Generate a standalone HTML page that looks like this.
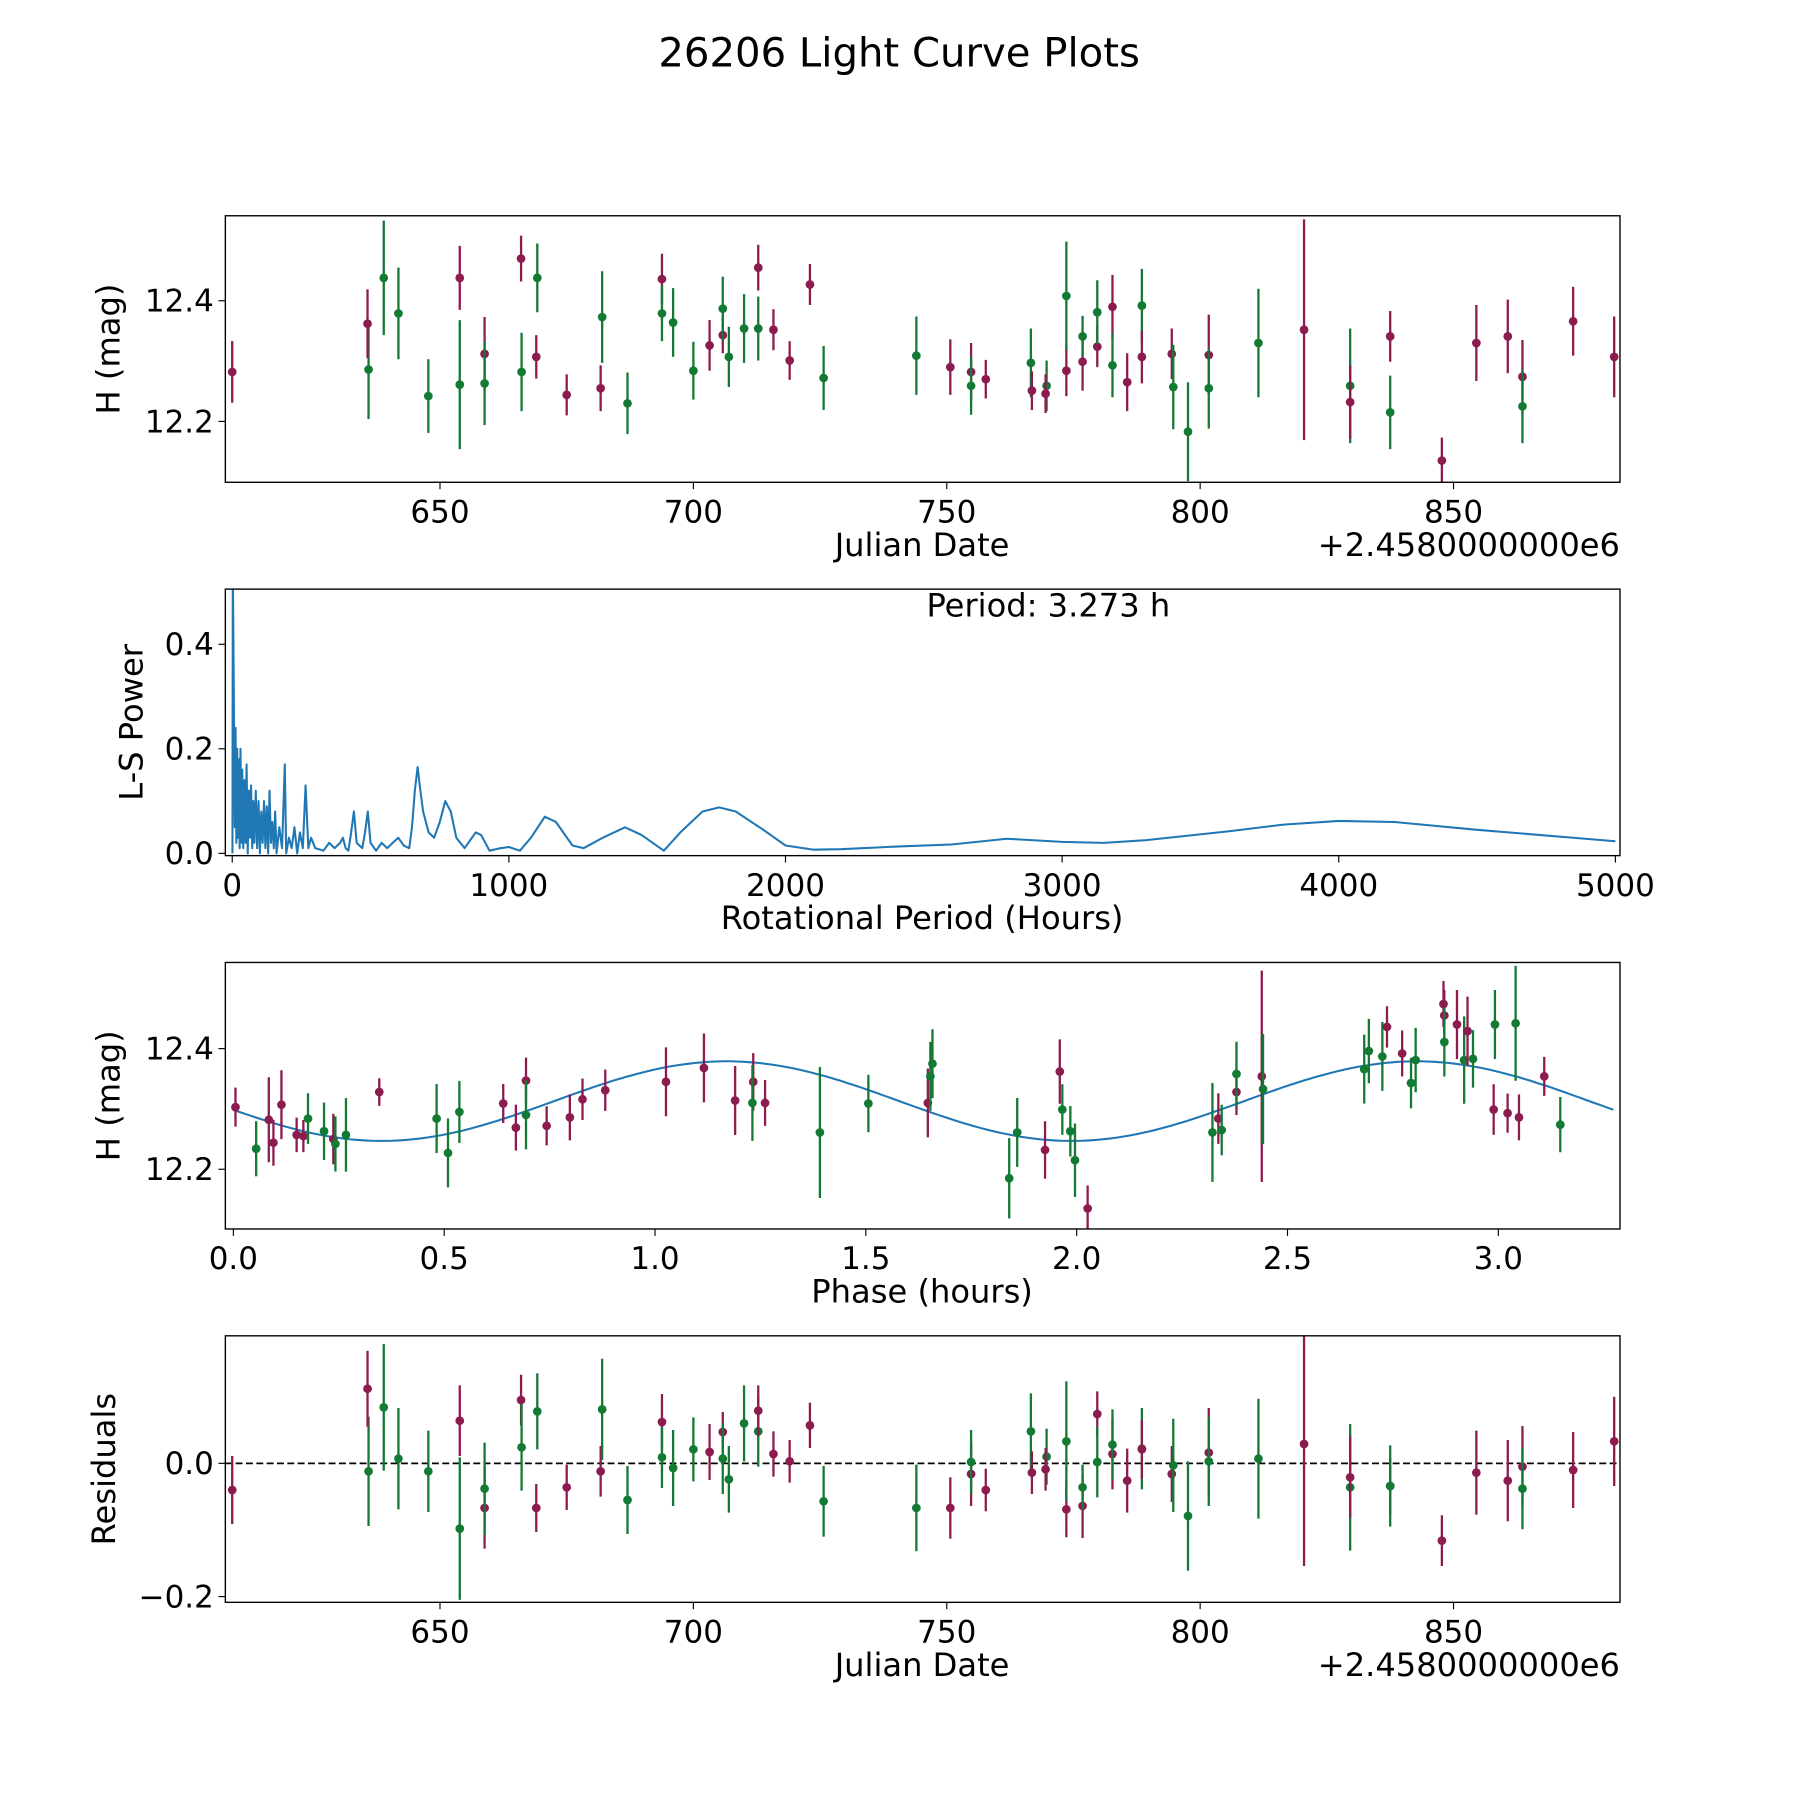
<!DOCTYPE html>
<html><head><meta charset="utf-8">
<style>
html,body{margin:0;padding:0;background:#fff;}
svg{display:block;font-family:"DejaVu Sans","Liberation Sans",sans-serif;}
</style></head>
<body>
<svg id="fig" width="1800" height="1800" viewBox="0 0 1560 1560" xmlns="http://www.w3.org/2000/svg">
<rect width="1560" height="1560" fill="#fff"/>
<defs>
<clipPath id="c1"><rect x="196" y="188" width="1215" height="232"/></clipPath>
<clipPath id="c2"><rect x="196" y="513" width="1215" height="232"/></clipPath>
<clipPath id="c3"><rect x="196" y="838" width="1215" height="232"/></clipPath>
<clipPath id="c4"><rect x="196" y="1163" width="1215" height="232"/></clipPath>
</defs>
<g transform="translate(195.3,187) scale(0.9948,0.9956) translate(-196,-188)">
<text x="783" y="58" font-size="35" text-anchor="middle">26206 Light Curve Plots</text>
<g id="p1"></g>
<g id="p2"></g>
<g id="p3"></g>
<g id="p4"></g>
</g>
</svg>
<script>
// ---- Light curve data (Julian date offsets, mag, error, filter) ----
const jdDates = [609.0,635.9,635.7,638.9,641.8,647.7,653.9,653.9,658.8,658.8,666.0,666.1,669.0,669.2,675.0,681.7,682.0,687.0,693.8,693.8,696.0,700.0,703.2,705.8,705.8,707.0,710.0,712.8,712.8,715.8,719.0,723.0,725.7,744.0,750.7,754.8,754.8,757.7,766.6,766.8,769.7,769.5,773.6,773.6,776.8,776.8,779.7,779.7,782.7,782.7,785.6,788.5,788.5,794.4,794.7,797.6,801.7,801.7,811.5,820.5,829.6,829.6,837.5,837.5,847.7,854.5,860.7,863.6,863.6,873.6,881.7];
const jdMags = [12.282,12.286,12.362,12.438,12.379,12.242,12.261,12.438,12.312,12.263,12.470,12.282,12.307,12.438,12.244,12.255,12.373,12.230,12.436,12.379,12.364,12.284,12.326,12.343,12.387,12.307,12.354,12.354,12.455,12.352,12.301,12.427,12.272,12.309,12.290,12.282,12.259,12.270,12.297,12.251,12.259,12.246,12.284,12.408,12.299,12.341,12.324,12.381,12.390,12.293,12.265,12.392,12.307,12.312,12.257,12.183,12.310,12.255,12.330,12.352,12.259,12.232,12.341,12.215,12.135,12.330,12.341,12.274,12.225,12.366,12.307];
const jdErrs = [.051,.082,.057,.095,.076,.061,.107,.053,.061,.069,.038,.065,.036,.057,.034,.038,.076,.051,.042,.046,.057,.048,.042,.030,.053,.050,.057,.053,.038,.034,.032,.034,.053,.065,.046,.048,.048,.032,.057,.032,.042,.032,.042,.090,.048,.034,.034,.053,.053,.053,.048,.061,.044,.042,.070,.082,.067,.067,.090,.183,.095,.061,.042,.061,.038,.063,.061,.061,.061,.057,.067];
const jdFilter = ["m","g","m","g","g","g","g","m","m","g","m","g","m","g","m","m","g","g","m","g","g","g","m","m","g","g","g","g","m","m","m","m","g","g","m","m","g","m","g","m","g","m","m","g","m","g","m","g","m","g","m","g","m","m","g","g","m","g","g","m","g","m","m","g","m","m","m","m","g","m","m"];
const residuals = [-0.040,-0.012,0.112,0.084,0.007,-0.012,-0.098,0.064,-0.067,-0.038,0.095,0.024,-0.067,0.078,-0.036,-0.012,0.081,-0.055,0.062,0.009,-0.007,0.021,0.017,0.047,0.007,-0.024,0.060,0.048,0.079,0.014,0.003,0.057,-0.057,-0.067,-0.067,-0.016,0.002,-0.040,0.048,-0.014,0.010,-0.009,-0.069,0.033,-0.064,-0.036,0.074,0.002,0.014,0.028,-0.026,0.022,0.021,-0.016,-0.003,-0.079,0.016,0.003,0.007,0.029,-0.036,-0.021,-0.034,-0.034,-0.116,-0.014,-0.026,-0.005,-0.038,-0.010,0.033];
// ---- Phase data ----
const phases = [0.005,0.054,0.084,0.095,0.114,0.150,0.166,0.177,0.215,0.237,0.242,0.267,0.346,0.482,0.509,0.536,0.640,0.670,0.694,0.694,0.743,0.798,0.828,0.882,1.026,1.116,1.190,1.233,1.231,1.261,1.391,1.506,1.647,1.653,1.658,1.840,1.859,1.925,1.960,1.966,1.985,1.996,2.026,2.322,2.336,2.344,2.379,2.379,2.439,2.442,2.682,2.693,2.725,2.736,2.772,2.793,2.804,2.870,2.872,2.872,2.902,2.919,2.927,2.940,2.989,2.992,3.022,3.041,3.049,3.109,3.147];
const phaseMags = [12.303,12.234,12.282,12.244,12.307,12.257,12.255,12.284,12.263,12.250,12.242,12.257,12.328,12.284,12.227,12.295,12.309,12.269,12.347,12.290,12.272,12.286,12.316,12.331,12.345,12.368,12.314,12.345,12.310,12.310,12.261,12.309,12.310,12.354,12.375,12.185,12.261,12.232,12.362,12.299,12.263,12.215,12.135,12.261,12.284,12.265,12.328,12.358,12.354,12.333,12.366,12.396,12.387,12.436,12.392,12.343,12.381,12.474,12.455,12.411,12.440,12.381,12.429,12.383,12.299,12.440,12.293,12.442,12.286,12.354,12.274];
const phaseErrPx = [17,24,37,20,30,15,14,22,25,22,24,32,12,30,30,27,17,20,20,30,17,20,18,18,30,30,30,25,33,20,57,25,30,30,30,35,30,25,28,22,22,32,20,43,22,22,20,28,92,48,30,28,30,18,20,22,28,20,22,30,30,38,30,25,22,30,17,50,20,17,24];
const phaseFilter = ["m","g","m","m","m","m","m","g","g","m","g","g","m","g","g","g","m","m","m","g","m","m","m","m","m","m","m","m","g","m","g","g","m","g","g","g","g","m","m","g","g","g","m","g","m","g","m","g","m","g","g","g","g","m","m","g","g","m","m","g","m","g","m","g","m","g","m","g","m","m","g"];
const modelMean = 12.313, modelAmp = 0.066, modelPeak = 1.17, period = 3.273;
// ---- Periodogram ----
const lsPeriods = [1,2,6,9,12,15,18,21,24,27,30,33,36,40,44,48,52,56,60,64,68,72,76,80,85,90,95,100,105,110,115,120,125,130,135,140,145,150,155,160,170,180,190,195,205,215,225,235,245,255,265,275,285,300,330,350,370,390,400,410,420,430,440,450,470,480,490,500,520,540,560,580,600,620,640,650,660,670,680,690,710,730,750,770,790,810,840,860,880,900,930,970,1000,1040,1080,1130,1170,1230,1270,1340,1420,1480,1560,1620,1700,1760,1820,1920,2000,2100,2200,2400,2600,2800,3000,3150,3300,3600,3800,4000,4200,4500,5000];
const lsPower = [0.0,0.55,0.30,0.05,0.24,0.02,0.20,0.03,0.18,0.01,0.20,0.02,0.16,0.01,0.14,0.02,0.17,0.0,0.12,0.03,0.13,0.01,0.10,0.02,0.12,0.01,0.10,0.0,0.08,0.02,0.10,0.01,0.09,0.0,0.12,0.02,0.06,0.01,0.08,0.0,0.05,0.01,0.17,0.0,0.03,0.01,0.05,0.0,0.04,0.01,0.13,0.01,0.03,0.01,0.005,0.02,0.01,0.02,0.03,0.01,0.005,0.04,0.08,0.02,0.01,0.04,0.08,0.02,0.005,0.02,0.01,0.02,0.03,0.015,0.01,0.05,0.12,0.165,0.12,0.08,0.04,0.03,0.06,0.10,0.08,0.03,0.01,0.025,0.04,0.035,0.005,0.01,0.012,0.005,0.03,0.07,0.06,0.015,0.01,0.03,0.05,0.035,0.005,0.04,0.08,0.088,0.08,0.045,0.015,0.007,0.008,0.013,0.017,0.028,0.022,0.02,0.025,0.042,0.055,0.062,0.06,0.045,0.023];
const jdTicks = [650,700,750,800,850];
const magTicks = [12.2,12.4];
const lsXTicks = [0,1000,2000,3000,4000,5000];
const lsYTicks = [0.0,0.2,0.4];
const phaseTicks = [0.0,0.5,1.0,1.5,2.0,2.5,3.0];
const resTicks = [-0.2,0.0];

const NS="http://www.w3.org/2000/svg";
const COL={m:"#8c1b50",g:"#127a33"};
function mk(parent,tag,attrs){const e=document.createElementNS(NS,tag);for(const k in attrs)e.setAttribute(k,attrs[k]);parent.appendChild(e);return e;}
const L=196,R=1411;
function lin(d0,d1,p0,p1){return v=>p0+(v-d0)*(p1-p0)/(d1-d0);}
const xJD=lin(650,850,383,1266);
function frame(g,top,xs,xTicks,xfmt,ys,yTicks,yfmt,xlabel,ylabel,ylx,offset){
  const b=top+232;
  xTicks.forEach(t=>{const x=xs(t);
    const tk=mk(g,'line',{x1:x,x2:x,y1:b,y2:b+6,stroke:'#000','stroke-width':1});
    
    const tl=mk(g,'text',{x:x,y:b+35,'font-size':27,'text-anchor':'middle'});tl.textContent=xfmt(t);
    });
  yTicks.forEach(t=>{const y=ys(t);
    const tk=mk(g,'line',{x1:L-6,x2:L,y1:y,y2:y,stroke:'#000','stroke-width':1});
    
    const tl=mk(g,'text',{x:L-10,y:y+9.5,'font-size':27,'text-anchor':'end'});tl.textContent=yfmt(t);
    });
  const xl=mk(g,'text',{x:803,y:b+64,'font-size':28,'text-anchor':'middle'});xl.textContent=xlabel;
  
  const yl=mk(g,'text',{x:ylx,y:top+116,'font-size':28,'text-anchor':'middle',transform:`rotate(-90 ${ylx} ${top+116})`});yl.textContent=ylabel;
  
  if(offset){const o=mk(g,'text',{x:R,y:b+64,'font-size':28,'text-anchor':'end'});o.textContent=offset;
    }
}
function box(g,top){const r=mk(g,'rect',{x:L,y:top,width:R-L,height:232,fill:'none',stroke:'#000','stroke-width':1.2});
  }
function pt(g,x,y,e,c){
  const l=mk(g,'line',{x1:x,x2:x,y1:y-e,y2:y+e,stroke:COL[c],'stroke-width':2});
  
  const d=mk(g,'circle',{cx:x,cy:y,r:3.8,fill:COL[c]});
  
}
const f1=v=>v.toFixed(1);
// Panel 1
{const g=document.getElementById('p1');const ys=lin(12.2,12.4,367,262);
 frame(g,188,xJD,jdTicks,String,ys,magTicks,f1,'Julian Date','H (mag)',104,'+2.4580000000e6');
 const cg=mk(g,'g',{'clip-path':'url(#c1)'});
 jdDates.forEach((d,i)=>pt(cg,xJD(d),ys(jdMags[i]),jdErrs[i]*525,jdFilter[i]));
 box(g,188);}
// Panel 2
{const g=document.getElementById('p2');const xs=lin(0,5000,202,1407);const ys=lin(0,0.2,743,652);
 frame(g,513,xs,lsXTicks,String,ys,lsYTicks,f1,'Rotational Period (Hours)','L-S Power',124,null);
 const cg=mk(g,'g',{'clip-path':'url(#c2)'});
 const p=mk(cg,'polyline',{points:lsPeriods.map((t,i)=>xs(t).toFixed(1)+','+ys(lsPower[i]).toFixed(1)).join(' '),fill:'none',stroke:'#1f77b4','stroke-width':1.8,'stroke-linejoin':'round'});
 
 const t=mk(g,'text',{x:913,y:537,'font-size':28,'text-anchor':'middle'});t.textContent='Period: 3.273 h';
 
 box(g,513);}
// Panel 3
{const g=document.getElementById('p3');const xs=lin(0,3,203,1305);const ys=lin(12.2,12.4,1018,913);
 frame(g,838,xs,phaseTicks,f1,ys,magTicks,f1,'Phase (hours)','H (mag)',104,null);
 const cg=mk(g,'g',{'clip-path':'url(#c3)'});
 const pts=[];for(let i=0;i<=200;i++){const ph=period*i/200;const m=modelMean+modelAmp*Math.cos(4*Math.PI*(ph-modelPeak)/period);pts.push(xs(ph).toFixed(1)+','+ys(m).toFixed(1));}
 const c=mk(cg,'polyline',{points:pts.join(' '),fill:'none',stroke:'#1f77b4','stroke-width':1.8});
 
 phases.forEach((ph,i)=>pt(cg,xs(ph),ys(phaseMags[i]),phaseErrPx[i],phaseFilter[i]));
 box(g,838);}
// Panel 4
{const g=document.getElementById('p4');const ys=lin(0,-0.2,1274,1390);
 frame(g,1163,xJD,jdTicks,String,ys,resTicks,v=>v<0?'\u2212'+Math.abs(v).toFixed(1):v.toFixed(1),'Julian Date','Residuals',100,'+2.4580000000e6');
 const cg=mk(g,'g',{'clip-path':'url(#c4)'});
 const z=mk(cg,'line',{x1:L,x2:R,y1:ys(0),y2:ys(0),stroke:'#000','stroke-width':1.5,'stroke-dasharray':'6,3'});
 
 jdDates.forEach((d,i)=>pt(cg,xJD(d),ys(residuals[i]),jdErrs[i]*580,jdFilter[i]));
 box(g,1163);}
</script>
</body></html>
